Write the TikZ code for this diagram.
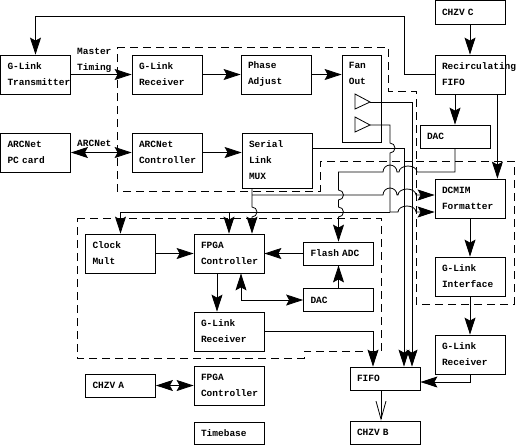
\documentclass[tikz,border=0pt]{standalone}
\usepackage{fontspec}
\setmonofont{Liberation Mono}
\usetikzlibrary{arrows.meta,calc}
\begin{document}
\begin{tikzpicture}[x=1pt,y=-1pt,
  every node/.style={font={\ttfamily\bfseries\fontsize{9.5}{16}\selectfont\hyphenpenalty=10000\exhyphenpenalty=10000}},
  box/.style={draw, line width=0.8pt, inner xsep=7pt, inner ysep=0pt, text width=56pt, align=left, minimum height=39pt},
  lbl/.style={inner sep=0pt, align=left},
  wire/.style={draw, line width=0.8pt},
  arr/.style={wire, -{Stealth[length=17pt,width=11pt,inset=3pt]}},
  dbl/.style={wire, {Stealth[length=17pt,width=11pt,inset=3pt]}-{Stealth[length=17pt,width=11pt,inset=3pt]}},
  openarr/.style={wire, -{Straight Barb[length=18pt,width=10pt]}},
  region/.style={draw, line width=0.8pt, dash pattern=on 8pt off 5pt}
]
\useasboundingbox (0,0) rectangle (518,445);

% dashed regions
\draw[region] (117,47) -- (388,47) -- (388,91) -- (416,91) -- (416,161) -- (320,161) -- (320,191) -- (117,191) -- cycle;
\draw[region] (416,161) -- (514,161) -- (514,304) -- (416,304) -- cycle;
\draw[region] (77,218) -- (381,218) -- (381,351) -- (304,351) -- (304,358) -- (77,358) -- cycle;

% boxes
\node[box] (gtx) at (35.5,74.5) {G-Link\\Transmitter};
\node[box] (grx1) at (167,74.5) {G-Link\\Receiver};
\node[box] (phase) at (276,74.5) {Phase\\Adjust};
\node[box, text width=25pt, minimum height=87pt,
  label={[anchor=north west, lbl, inner xsep=7pt, inner ysep=7pt]north west:Fan\\Out}] (fanout) at (361.5,98.5) {};
\node[box, minimum height=23.5pt] (chzvc) at (470,12.25) {CHZV C};
\node[box] (recirc) at (470,74.5) {Recirculating\\FIFO};
\node[box, minimum height=23pt] (dac1) at (455,136.5) {DAC};
\node[box] (pccard) at (35.5,152.5) {ARCNet\\PC card};
\node[box] (arcctl) at (167,152.5) {ARCNet\\Controller};
\node[box, minimum height=55pt] (mux) at (277,160.5) {Serial\\Link\\MUX};
\node[box] (dcmim) at (470,198.5) {DCMIM\\Formatter};
\node[box] (glif) at (470,276.5) {G-Link\\Interface};
\node[box] (grx3) at (470,354.5) {G-Link\\Receiver};
\node[box] (clock) at (120.5,253.5) {Clock\\Mult};
\node[box] (fpga1) at (229,253.5) {FPGA\\Controller};
\node[box, minimum height=23pt] (flash) at (338.5,253.5) {Flash ADC};
\node[box, minimum height=23pt] (dac2) at (338.5,300) {DAC};
\node[box] (grx2) at (229,331.5) {G-Link\\Receiver};
\node[box, minimum height=23pt] (chzva) at (120.5,385.5) {CHZV A};
\node[box] (fpga2) at (229,385.5) {FPGA\\Controller};
\node[box, minimum height=22pt] (timebase) at (229,433) {Timebase};
\node[box, minimum height=23pt] (fifo) at (385,378.5) {FIFO};
\node[box, minimum height=23pt] (chzvb) at (385,432.5) {CHZV B};

% fan-out buffers
\coordinate (t1) at (370,102);
\coordinate (t2) at (370,125);
\draw[wire] (355,94) -- (t1) -- (355,109) -- cycle;
\draw[wire] (355,117) -- (t2) -- (355,132) -- cycle;

% labels
\node[lbl, anchor=west] (mt) at (77,60.5) {Master\\Timing};
\node[lbl, anchor=west] (arclbl) at (77,143) {ARCNet};

% simple connectors
\coordinate (loopA) at (404,16);
\draw[arr] (recirc.west) -| (loopA) -| (gtx.north);
\draw[arr] (chzvc) -- (recirc);
\draw[arr] (gtx) -- (grx1);
\draw[arr] (grx1) -- (phase);
\draw[arr] (phase.east) -- (phase.east -| fanout.west);
\draw[dbl] (pccard) -- (arcctl);
\draw[arr] (arcctl.east) -- (arcctl.east -| mux.west);
\draw[arr] (recirc.south -| dac1.north) -- (dac1.north);
\draw[arr] ([xshift=-8pt]recirc.south east) -- ([xshift=-8pt]dcmim.north east);
\draw[arr] (dcmim) -- (glif);
\draw[arr] (glif) -- (grx3);
\draw[arr] (grx3.south) |- ([yshift=-3.5pt]fifo.east);
\draw[openarr] ([xshift=-4pt]fifo.south) -- ([xshift=-4pt]chzvb.north);
\draw[arr] (clock) -- (fpga1);
\draw[arr] ([xshift=-12pt]fpga1.south) -- ([xshift=-12pt]grx2.north);
\draw[dbl] ([xshift=12pt]fpga1.south) |- (dac2.west);
\draw[arr] (flash.west) -- (flash.west -| fpga1.east);
\draw[arr] (dac2) -- (flash);
\draw[arr] (grx2.east) -| ([xshift=-12pt]fifo.north);
\draw[dbl] (chzva) -- (fpga2);

% fan-out output 1 and MUX output to FIFO
\draw[arr] (t1) -| ([xshift=27pt]fifo.north);
\draw[arr] ([yshift=12.5pt]mux.east) -| ([xshift=19pt]fifo.north);

% fan-out output 2: clock distribution
\coordinate (hopA) at (390,143);
\coordinate (J2) at (390,212);
\draw[wire] (t2) -| (hopA) arc[start angle=90,end angle=-90,radius=5pt] -- (J2);
\draw[arr] (J2) -| (clock.north);
\draw[arr] (J2 -| fpga1.north) -- (fpga1.north);
\draw[arr] (J2) -- (398,212) arc[start angle=180,end angle=0,x radius=9pt,y radius=6pt] -- ([yshift=-13.5pt]dcmim.west);

% MUX bottom output
\coordinate (J1) at (252,195);
\draw[arr] ([xshift=-25pt]mux.south) -- (J1) -- (252,207) arc[start angle=90,end angle=-90,radius=5pt] -- ([xshift=23pt]fpga1.north);
\draw[arr] (J1) -- (383,195) arc[start angle=180,end angle=0,radius=7pt] -- (398,195) arc[start angle=180,end angle=0,x radius=9pt,y radius=6pt] -- ([yshift=3.5pt]dcmim.west);

% DAC (top) to Flash ADC
\draw[arr] (dac1.south) -- (455,172) -- (417,172) arc[start angle=0,end angle=180,x radius=9pt,y radius=6pt] -- (397,172) arc[start angle=0,end angle=180,radius=7pt] -- (338.5,172) -- (338.5,190) arc[start angle=90,end angle=-90,radius=5pt] -- (338.5,207) arc[start angle=90,end angle=-90,radius=5pt] -- (flash.north);
\end{tikzpicture}
\end{document}
